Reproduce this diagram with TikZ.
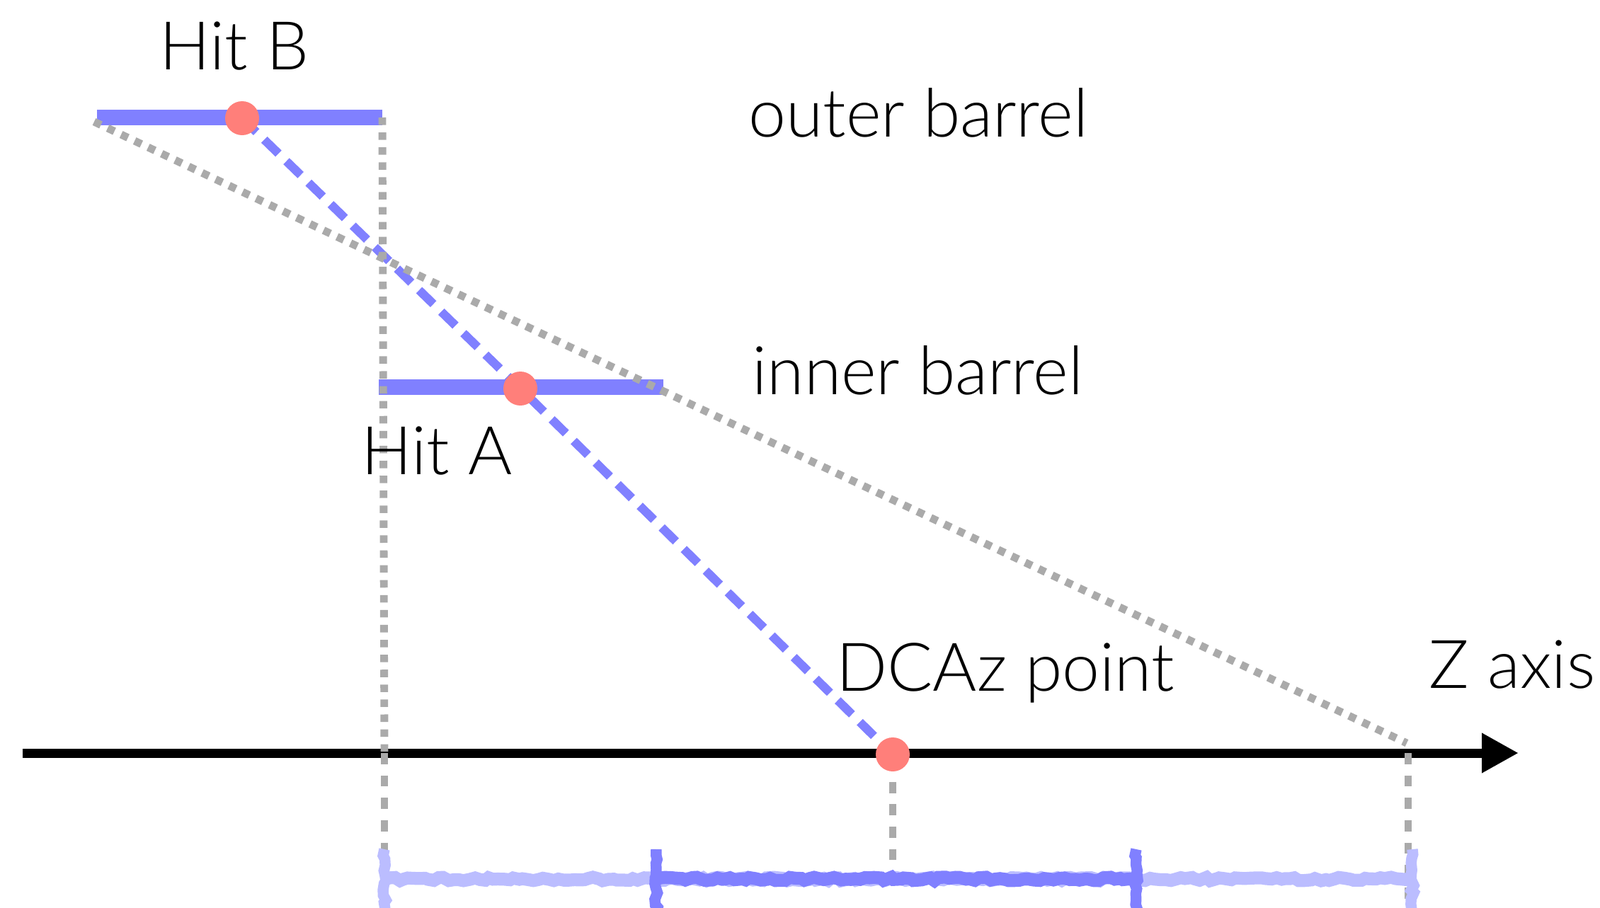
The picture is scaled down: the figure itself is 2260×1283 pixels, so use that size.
\documentclass[tikz,border=0pt]{standalone}
\usepackage{fontspec}
\setmainfont{Lato Light}
\usepackage{tikz}
\usetikzlibrary{
  positioning, arrows.meta, decorations.pathmorphing, backgrounds
}
\definecolor{barrelblue}{HTML}{8080FF}
\definecolor{rangeblue}{HTML}{BBBDFF}
\definecolor{hitred}{HTML}{FF7F7A}
\definecolor{guidegray}{HTML}{AAAAAA}
\tikzset{
	labeltext/.style={font=\fontsize{27}{32}\selectfont, inner sep=0pt, anchor=base west}
}

\begin{document}
\begin{tikzpicture}[x=0.1mm, y=-0.1mm]

      \tikzset{
        hitdot/.style={
            shape=circle,
            fill=hitred,
            minimum size=4.8mm,
            inner sep=0pt
          },
        barrel/.style={line width=6.4pt, barrelblue},
        guidedots/.style={line width=3.1pt, guidegray, dash pattern=on 3pt off 3pt},
        guidedash/.style={line width=2.8pt, guidegray, dash pattern=on 4.5pt off 4.5pt},
        trackline/.style={line width=3.5pt, barrelblue, dash pattern=on 8pt off 4.4pt},
        rangebar/.style={line width=5.2pt,
            decorate, decoration={random steps, segment length=2pt, amplitude=0.7pt}},
        rangetick/.style={line width=4.4pt,
            decorate, decoration={random steps, segment length=2pt, amplitude=0.6pt}}
      }

      \useasboundingbox (0,0) rectangle (2260,1283);

      % barrels
      \coordinate (ob-l) at (137,166);
      \coordinate (ob-r) at (540,166);
      \coordinate (ib-l) at (535,547);
      \coordinate (ib-r) at (937,547);
      \draw[barrel] (ob-l) -- (ob-r);
      \draw[barrel] (ib-l) -- (ib-r);

      % z axis
      \coordinate (ax-l) at (32,1064);
      \coordinate (ax-r) at (2145,1064);
      \draw[line width=3.7pt, -{Triangle[length=5.2mm, width=5.3mm]}] (ax-l) -- (ax-r);

      % projections
      \coordinate (ob-corner) at (133,172);
      \coordinate (zfar) at (1987,1050);
      \coordinate (zfar-axis) at (1989,1064);
      \coordinate (zfar-low) at (1989,1283);
      \coordinate (left-axis) at (543,1064);
      \coordinate (left-low) at (543,1240);
      \coordinate (dca-low) at (1261,1232);
      \draw[guidedots] (ob-corner) -- (zfar);
      \draw[guidedots] (ob-r) -- (left-axis);
      \draw[guidedash] (left-axis) -- (left-low);
      \draw[guidedash] (zfar-axis) -- (zfar-low);

      % hits
      \node[hitdot] (hitB) at (342,167) {};
      \node[hitdot] (hitA) at (735,549) {};
      \node[hitdot] (dca) at (1261,1066) {};

      \begin{scope}[on background layer]
        \draw[trackline] (hitB.center) -- (hitA.center) -- (dca.center);
      \end{scope}
      \draw[guidedash] (dca.south) ++(0,14) -- (dca-low);

      % labels
      \node[labeltext] (hitB-text) at (225,98) {Hit B};
      \node[labeltext] (hitA-text) at (510,670) {Hit A};
      \node[labeltext] (outer-text) at (1057,193) {outer barrel};
      \node[labeltext] (inner-text) at (1062,557) {inner barrel};
      \node[labeltext] (dca-text) at (1181,976) {DCAz point};
      \node[labeltext, anchor=base east] (z-text) at (2254,972) {Z axis};

      % z ranges
      \coordinate (wide-l) at (543,1242);
      \coordinate (wide-r) at (1995,1242);
      \coordinate (narrow-l) at (927,1242);
      \coordinate (narrow-r) at (1605,1242);
      \draw[rangebar, rangeblue] (wide-l) -- (wide-r);
      \draw[rangetick, rangeblue] (543,1200) -- (543,1290);
      \draw[rangetick, rangeblue] (1995,1200) -- (1995,1290);
      \draw[rangebar, barrelblue] (narrow-l) -- (narrow-r);
      \draw[rangetick, barrelblue] (927,1200) -- (927,1290);
      \draw[rangetick, barrelblue] (1605,1200) -- (1605,1290);
    \end{tikzpicture}
\end{document}
